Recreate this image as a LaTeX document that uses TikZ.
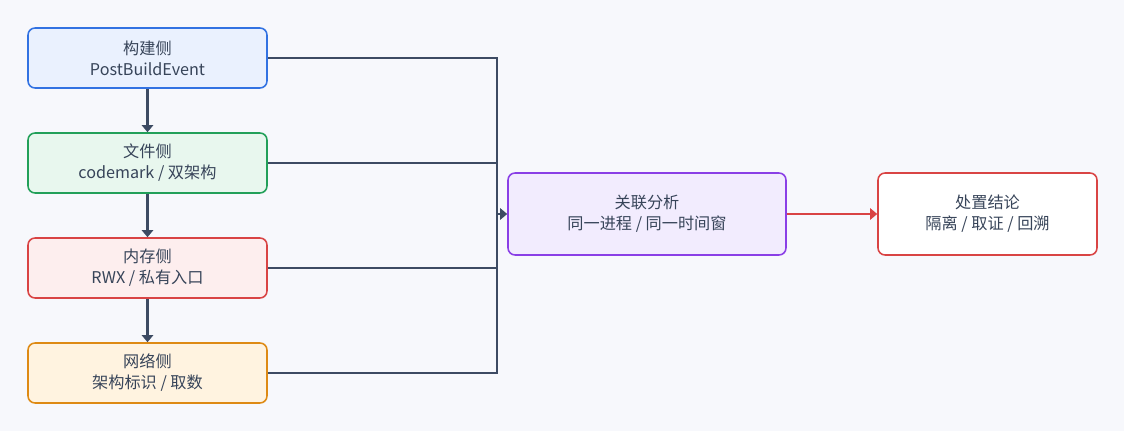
\documentclass[tikz,border=0pt]{standalone}
\usepackage{fontspec}
\setmainfont{Noto Sans CJK SC}
\usetikzlibrary{arrows.meta}
\definecolor{bg}{HTML}{F7F8FC}
\definecolor{ln}{HTML}{3D4B63}
\definecolor{bluef}{HTML}{EAF1FE}\definecolor{blued}{HTML}{3272E2}
\definecolor{greenf}{HTML}{E8F7EE}\definecolor{greend}{HTML}{22A059}
\definecolor{redf}{HTML}{FDEEEE}\definecolor{redd}{HTML}{D94444}
\definecolor{orangef}{HTML}{FFF3E0}\definecolor{oranged}{HTML}{DE8A14}
\definecolor{purplef}{HTML}{F2ECFE}\definecolor{purpled}{HTML}{8A3FE6}
\begin{document}
\begin{tikzpicture}[x=0.025cm,y=-0.025cm,font=\fontsize{11.5}{15}\selectfont]
   \fill[bg] (0,0) rectangle (1124,431);
   \tikzset{box/.style={rounded corners=5pt, line width=1.1pt, align=center, text=ln!90!black, minimum width=239*0.025cm, minimum height=60*0.025cm, inner sep=0pt},
     conn/.style={draw=ln, line width=1.6pt},
     tip/.style={-{Triangle[length=5pt,width=8pt]}}}
   \node[box, fill=bluef, draw=blued] (build) at (147.5,58) {构建侧\\PostBuildEvent};
   \node[box, fill=greenf, draw=greend] (file) at (147.5,163) {文件侧\\codemark / 双架构};
   \node[box, fill=redf, draw=redd] (mem) at (147.5,268) {内存侧\\RWX / 私有入口};
   \node[box, fill=orangef, draw=oranged] (net) at (147.5,373) {网络侧\\架构标识 / 取数};
   \node[box, fill=purplef, draw=purpled, minimum width=278*0.025cm, minimum height=82*0.025cm] (corr) at (647,214) {关联分析\\同一进程 / 同一时间窗};
   \node[box, fill=white, draw=redd, minimum width=219*0.025cm, minimum height=82*0.025cm] (act) at (987.5,214) {处置结论\\隔离 / 取证 / 回溯};
   \coordinate (hub) at (497,214);
   % chain on the left
   \foreach \a/\b in {build/file,file/mem,mem/net}
      \draw[conn, tip] (\a) -- (\b);
   % bus into the correlation box
   \foreach \s in {build,file,mem,net}
      \draw[conn] (\s.east) -| (hub);
   \draw[conn, tip] (hub) -- (corr.west);
   \draw[draw=redd, line width=1.6pt, tip] (corr) -- (act);
\end{tikzpicture}
\end{document}
